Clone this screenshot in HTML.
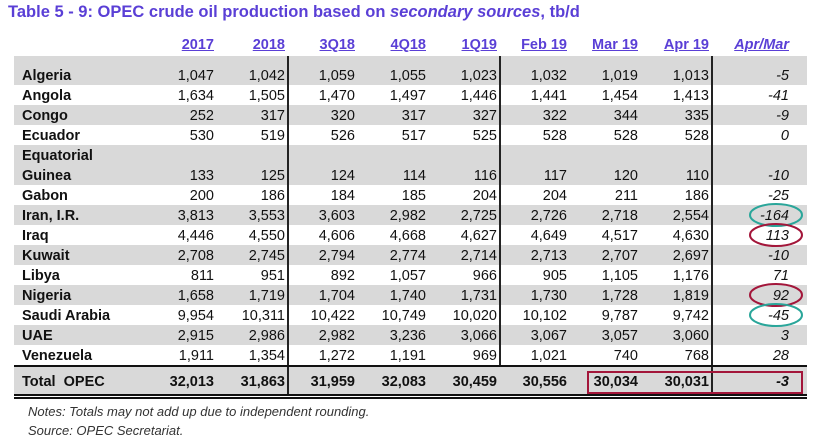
<!DOCTYPE html>
<html><head><meta charset="utf-8"><style>
body{margin:0;width:820px;height:446px;background:#fff;position:relative;overflow:hidden;font-family:"Liberation Sans",Arial,sans-serif;}
.t{position:absolute;left:8px;top:3px;font-size:16.5px;font-weight:bold;color:#5a3fd6;white-space:nowrap}
.band{position:absolute;left:14px;width:793px;background:#d9d9d9}
.h{position:absolute;top:37px;font-size:14.5px;font-weight:bold;color:#5a3fd6;text-decoration:underline;white-space:nowrap;text-align:right;width:80px}
.r{position:absolute;left:0;width:820px;height:20px;font-size:14.5px;color:#111}
.r span{position:absolute;top:3px;text-align:right;width:80px}
.r .n{left:22px;text-align:left;font-weight:bold;width:200px}
.r .i{font-style:italic}
.vl{position:absolute;width:1.5px;background:#222}
.note{position:absolute;left:28px;font-size:13px;font-style:italic;color:#333}
</style></head><body>
<div class="t">Table 5 - 9: OPEC crude oil production based on <i>secondary sources</i>, tb/d</div>
<div class="h" style="left:134px">2017</div>
<div class="h" style="left:205px">2018</div>
<div class="h" style="left:275px">3Q18</div>
<div class="h" style="left:346px">4Q18</div>
<div class="h" style="left:417px">1Q19</div>
<div class="h" style="left:487px">Feb 19</div>
<div class="h" style="left:558px">Mar 19</div>
<div class="h" style="left:629px">Apr 19</div>
<div class="h" style="left:709px;font-style:italic">Apr/Mar</div>
<div class="band" style="top:56px;height:29px"></div>
<div class="band" style="top:105px;height:20px"></div>
<div class="band" style="top:145px;height:40px"></div>
<div class="band" style="top:205px;height:20px"></div>
<div class="band" style="top:245px;height:20px"></div>
<div class="band" style="top:285px;height:20px"></div>
<div class="band" style="top:325px;height:20px"></div>
<div class="band" style="top:367px;height:27px"></div>
<div class="vl" style="left:287px;top:56px;height:338px"></div>
<div class="vl" style="left:499px;top:56px;height:310px"></div>
<div class="vl" style="left:711px;top:56px;height:338px"></div>
<div style="position:absolute;left:14px;top:365px;width:793px;height:2px;background:#111"></div>
<div style="position:absolute;left:14px;top:394px;width:793px;height:1.5px;background:#111"></div>
<div style="position:absolute;left:14px;top:397px;width:793px;height:1.5px;background:#111"></div>
<div id="rows"></div>
<script>
const L=[134,205,275,346,417,487,558,629,709];
const D=[["Algeria",65,"1,047","1,042","1,059","1,055","1,023","1,032","1,019","1,013","-5"],
["Angola",85,"1,634","1,505","1,470","1,497","1,446","1,441","1,454","1,413","-41"],
["Congo",105,"252","317","320","317","327","322","344","335","-9"],
["Ecuador",125,"530","519","526","517","525","528","528","528","0"],
["Equatorial",145],
["Guinea",165,"133","125","124","114","116","117","120","110","-10"],
["Gabon",185,"200","186","184","185","204","204","211","186","-25"],
["Iran, I.R.",205,"3,813","3,553","3,603","2,982","2,725","2,726","2,718","2,554","-164"],
["Iraq",225,"4,446","4,550","4,606","4,668","4,627","4,649","4,517","4,630","113"],
["Kuwait",245,"2,708","2,745","2,794","2,774","2,714","2,713","2,707","2,697","-10"],
["Libya",265,"811","951","892","1,057","966","905","1,105","1,176","71"],
["Nigeria",285,"1,658","1,719","1,704","1,740","1,731","1,730","1,728","1,819","92"],
["Saudi Arabia",305,"9,954","10,311","10,422","10,749","10,020","10,102","9,787","9,742","-45"],
["UAE",325,"2,915","2,986","2,982","3,236","3,066","3,067","3,057","3,060","3"],
["Venezuela",345,"1,911","1,354","1,272","1,191","969","1,021","740","768","28"],
["Total &nbsp;OPEC",371,"32,013","31,863","31,959","32,083","30,459","30,556","30,034","30,031","-3"]];
let h="";
for(const d of D){h+=`<div class="r" style="top:${d[1]}px${d[0].startsWith('Total')?';font-weight:bold':''}"><span class="n">${d[0]}</span>`;
for(let i=2;i<d.length;i++)h+=`<span class="${i==10?'i':''}" style="left:${L[i-2]}px">${d[i]}</span>`;h+="</div>";}
document.getElementById("rows").innerHTML=h;
</script>
<svg style="position:absolute;left:0;top:0" width="820" height="446">
<g fill="none" stroke-width="2">
<ellipse cx="776" cy="215" rx="26" ry="11" stroke="#2aa69a"/>
<ellipse cx="776" cy="235" rx="26" ry="11" stroke="#a3163a"/>
<ellipse cx="776" cy="295" rx="26" ry="11" stroke="#a3163a"/>
<ellipse cx="776" cy="315" rx="26" ry="11" stroke="#2aa69a"/>
<rect x="588" y="372" width="214" height="21" stroke="#a3163a"/>
</g></svg>
<div class="note" style="top:404px">Notes: Totals may not add up due to independent rounding.</div>
<div class="note" style="top:423px">Source: OPEC Secretariat.</div>
</body></html>
